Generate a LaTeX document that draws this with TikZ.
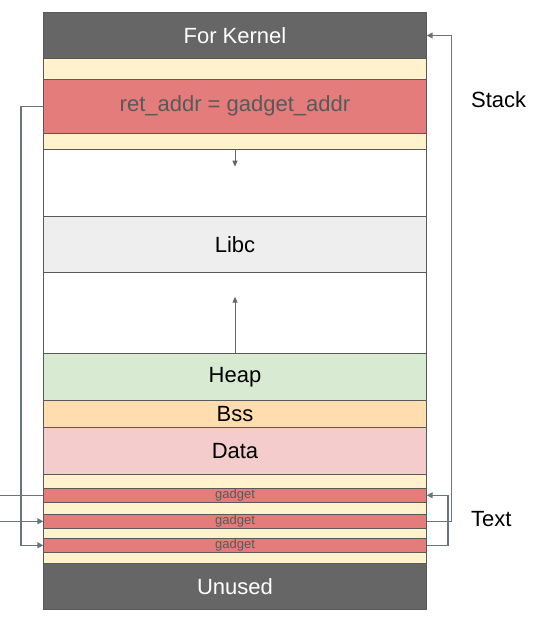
\documentclass[tikz,border=0pt]{standalone}
\usepackage{fontspec}
\setmainfont{Liberation Sans}
\usetikzlibrary{positioning,arrows.meta}
\definecolor{darkband}{HTML}{666666}
\definecolor{padband}{HTML}{FFF2CC}
\definecolor{hotband}{HTML}{E47C7C}
\definecolor{libcband}{HTML}{EEEEEE}
\definecolor{heapband}{HTML}{D9EAD3}
\definecolor{bssband}{HTML}{FFDDAE}
\definecolor{databand}{HTML}{F4CCCC}
\definecolor{edge}{HTML}{595959}
\definecolor{wire}{HTML}{68757D}
\begin{document}
\begin{tikzpicture}[x=1pt, y=1pt,
  every node/.style={font=\fontsize{22}{26}\selectfont},
  band/.style={draw=edge, line width=1pt, rectangle, minimum width=383.4pt, inner sep=0pt, outer sep=0pt},
  dark/.style={band, fill=darkband, text=white},
  pad/.style={band, fill=padband},
  hot/.style={band, fill=hotband, text=edge},
  gadgetbox/.style={hot, minimum height=14pt, font=\fontsize{13}{15}\selectfont},
  sidelabel/.style={anchor=west, inner sep=0pt},
  wirepath/.style={draw=wire, line width=1.2pt, -{Triangle[length=6pt,width=6pt]}},
  growarrow/.style={draw=darkband, line width=1pt, -{Triangle[length=6pt,width=5pt]}}]
\useasboundingbox (0,0) rectangle (535,626);
\node[dark, minimum height=46.4pt, anchor=north] (kernel) at (235,613.7) {For Kernel};
\node[pad, minimum height=20.6pt, below=0pt of kernel] (pad1) {};
\node[hot, minimum height=54pt, below=0pt of pad1] (ret) {ret\_addr = gadget\_addr};
\node[pad, minimum height=16pt, below=0pt of ret] (pad2) {};
\node[band, minimum height=67.4pt, below=0pt of pad2] (gap1) {};
\node[band, fill=libcband, minimum height=55.6pt, below=0pt of gap1] (libc) {Libc};
\node[band, minimum height=81pt, below=0pt of libc] (gap2) {};
\node[band, fill=heapband, minimum height=47pt, below=0pt of gap2] (heap) {Heap};
\node[band, fill=bssband, minimum height=27pt, below=0pt of heap] (bss) {Bss};
\node[band, fill=databand, minimum height=47pt, below=0pt of bss] (data) {Data};
\node[pad, minimum height=14pt, below=0pt of data] (pad3) {};
\node[gadgetbox, below=0pt of pad3] (gadget1) {gadget};
\node[pad, minimum height=12pt, below=0pt of gadget1] (pad4) {};
\node[gadgetbox, below=0pt of pad4] (gadget2) {gadget};
\node[pad, minimum height=10pt, below=0pt of gadget2] (pad5) {};
\node[gadgetbox, below=0pt of pad5] (gadget3) {gadget};
\node[pad, minimum height=11pt, below=0pt of gadget3] (pad6) {};
\node[dark, minimum height=46pt, below=0pt of pad6] (unused) {Unused};
\node[sidelabel] (stacklbl) at (471,526) {Stack};
\node[sidelabel] (textlbl) at (471,107) {Text};
\draw[growarrow] (pad2.south) -- ++(0,-17.4);
\draw[growarrow] (heap.north) -- ++(0,56.6);
\draw[wirepath] (gadget2.east) -- ++(25,0) |- (kernel.east);
\draw[wirepath] (gadget3.east) -- ++(21.3,0) |- (gadget1.east);
\draw[wirepath] (ret.west) -- ++(-22.3,0) |- (gadget3.west);
\coordinate (feed1) at (0,0 |- gadget1.west);
\coordinate (feed2) at (0,0 |- gadget2.west);
\draw[wirepath, -] (feed1) -- (gadget1.west);
\draw[wirepath] (feed2) -- (gadget2.west);
\end{tikzpicture}
\end{document}
